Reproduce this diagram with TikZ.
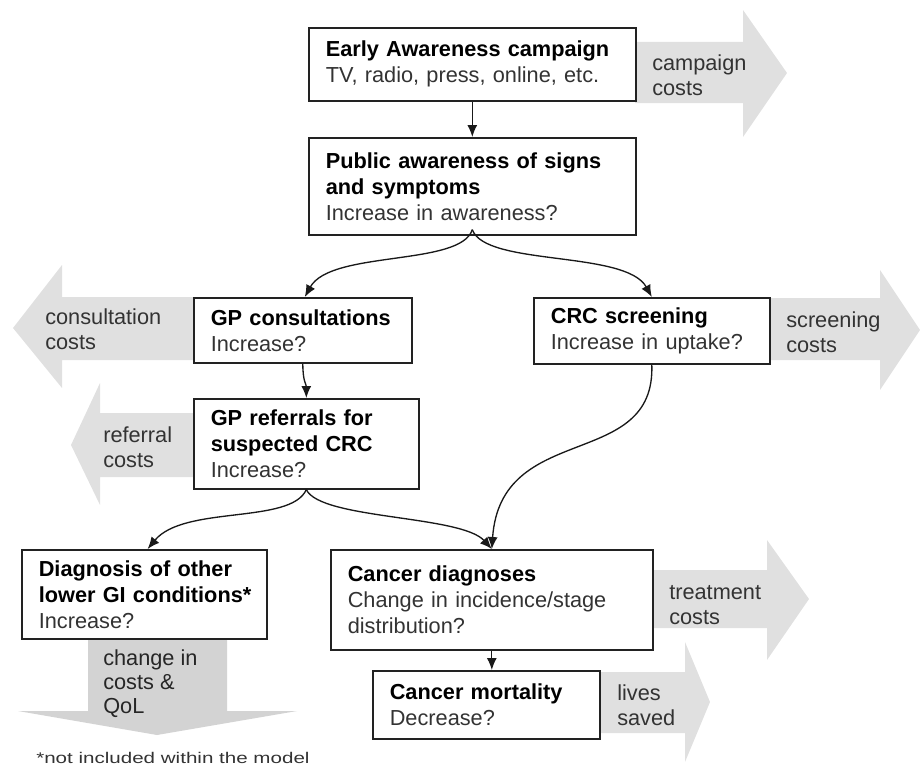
\documentclass[tikz,border=0pt]{standalone}
\usepackage{fontspec}
\setmainfont{Liberation Sans}
\usetikzlibrary{arrows.meta}
\definecolor{arrowgrey}{HTML}{E0E0E0}
\definecolor{downgrey}{HTML}{D3D3D3}
\definecolor{boxline}{HTML}{222222}
\definecolor{txt}{HTML}{333333}
\newcommand\boxhead[1]{{\color{black}\bfseries #1}}
\begin{document}
\begin{tikzpicture}[x=0.75pt,y=-0.75pt,
  box/.style={draw=boxline, line width=1.2pt, fill=white, anchor=north west, align=left,
    inner xsep=12.75pt, inner ysep=0pt, font=\fontsize{16.3}{19.5}\selectfont, text=txt},
  costlabel/.style={anchor=base west, align=left, inner sep=0pt,
    font=\fontsize{16.3}{18.75}\selectfont, text=txt},
  costarrow/.style={fill=arrowgrey, draw=none},
  conn/.style={-{Latex[length=9pt,width=7.5pt]}, line width=1pt, black!90}
]
\useasboundingbox (0,0) rectangle (920,767);

% grey cost arrows
\fill[costarrow] (635,42) -- (743,42) -- (743,10) -- (787,73) -- (743,137) -- (743,103) -- (635,103) -- cycle;
\fill[costarrow] (193,297) -- (62,297) -- (62,265) -- (13,328) -- (62,388) -- (62,360) -- (193,360) -- cycle;
\fill[costarrow] (193,413) -- (100,413) -- (100,383) -- (71,445) -- (100,505) -- (100,477) -- (193,477) -- cycle;
\fill[costarrow] (769,298) -- (880,298) -- (880,270) -- (920,330) -- (880,390) -- (880,360) -- (769,360) -- cycle;
\fill[costarrow] (652,570) -- (767,570) -- (767,540) -- (809,599) -- (767,660) -- (767,628) -- (652,628) -- cycle;
\fill[costarrow] (599,672) -- (685,672) -- (685,642) -- (710,702) -- (685,762) -- (685,733) -- (599,733) -- cycle;
\fill[downgrey] (88,638) -- (227,638) -- (227,711) -- (297,711) -- (157,735) -- (18,711) -- (88,711) -- cycle;

\node[costlabel] (lcamp) at (652,95) {campaign\\costs};
\node[costlabel] (lcons) at (45,349) {consultation\\costs};
\node[costlabel] (lref) at (103,467) {referral\\costs};
\node[costlabel] (lscr) at (786,352) {screening\\costs};
\node[costlabel] (ltreat) at (669,624) {treatment\\costs};
\node[costlabel] (llives) at (617,725) {lives\\saved};
\node[costlabel, font=\fontsize{16.3}{18}\selectfont, text=black!85] (lqol) at (103,713) {change in\\costs \&\\QoL};

% boxes
\node[box, text width=219.75pt, minimum height=54.75pt] (early) at (308,27)
  {\boxhead{Early Awareness campaign}\\TV, radio, press, online, etc.};
\node[box, text width=219.75pt, minimum height=72.75pt] (public) at (308,137)
  {\boxhead{Public awareness of signs}\\\boxhead{and symptoms}\\Increase in awareness?};
\node[box, text width=138pt, minimum height=48.75pt] (gpc) at (193,297)
  {\boxhead{GP consultations}\\Increase?};
\node[box, text width=151.5pt, minimum height=49.5pt] (crc) at (533,297)
  {\boxhead{CRC screening}\\Increase in uptake?};
\node[box, text width=143.25pt, minimum height=67.5pt] (gpr) at (193,398)
  {\boxhead{GP referrals for}\\\boxhead{suspected CRC}\\Increase?};
\node[box, text width=158.25pt, minimum height=66.75pt] (diag) at (21,549)
  {\boxhead{Diagnosis of other}\\\boxhead{\mbox{lower GI conditions*}}\\Increase?};
\node[box, text width=216pt, minimum height=75pt] (cdiag) at (330,549)
  {\boxhead{Cancer diagnoses}\\Change in incidence/stage\\distribution?};
\node[box, text width=144.75pt, minimum height=51pt] (mort) at (372,670)
  {\boxhead{Cancer mortality}\\Decrease?};

% connectors
\draw[conn] (early.south) -- (public.north);
\draw[conn] ([yshift=4.5pt]public.south) .. controls +(-11.5,37) and +(26,-47) .. ([xshift=1.5pt]gpc.north);
\draw[conn] ([yshift=4.5pt]public.south) .. controls +(13,37) and +(-26,-47) .. (crc.north);
\draw[conn] (gpc.south) .. controls +(0,18) and +(0,-14) .. (gpr.north);
\draw[conn] (gpr.south) .. controls +(-15.5,35) and +(36.5,-44) .. ([xshift=2.5pt]diag.north);
\draw[conn] (gpr.south) .. controls +(14.5,30) and +(-31,-34) .. (cdiag.north);
\draw[conn] (crc.south) .. controls +(4,107) and +(9,-129) .. (cdiag.north);
\draw[conn] (cdiag.south) -- (cdiag.south |- mort.north);

% footnote
\node[anchor=base west, inner sep=0pt, font=\fontsize{11.6}{13}\selectfont, text=txt] (foot) at (36,763)
  {\scalebox{1.33}[1]{*not included within the model}};
\end{tikzpicture}
\end{document}
